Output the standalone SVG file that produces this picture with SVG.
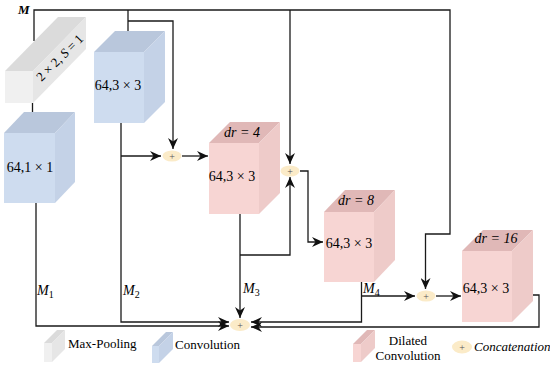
<svg xmlns="http://www.w3.org/2000/svg" width="550" height="367" viewBox="0 0 550 367" font-family="'Liberation Serif','Times New Roman',Times,'DejaVu Serif',serif">
<style>
text{font-family:'Liberation Serif','Times New Roman',Times,'DejaVu Serif',serif}
.lbl{font-size:14px}
.it{font-style:italic}
.leg{font-size:13px}
.conn path{fill:none;stroke:#1a1a1a;stroke-width:1.3}
.bf{fill:#cedcef}.bt{fill:#b9c7dc}.bs{fill:#c4d2e7}
.pf{fill:#f7d5d3}.pt{fill:#e0b8b7}.ps{fill:#eecbc9}
.gf{fill:#f0f0f0}.gt{fill:#dbdbdb}.gs{fill:#e6e6e6}
.cat{fill:#fbebc8}
.plus{font-size:10px;fill:#555}
</style>
<defs>
<marker id="ah" markerUnits="userSpaceOnUse" markerWidth="12" markerHeight="10" refX="11" refY="5" orient="auto">
<path d="M0,0 L11,5 L0,10 L3.5,5 z" fill="#111"/>
</marker>
</defs>

<g class="conn">
<path d="M34,41 V10 H450 V234 H425.5 V289" marker-end="url(#ah)"/>
<path d="M128,10 V31"/>
<path d="M128,21 H173 V149" marker-end="url(#ah)"/>
<path d="M290,10 V164" marker-end="url(#ah)"/>
<path d="M32.5,103 V112"/>
<path d="M36,203 V326 H229" marker-end="url(#ah)"/>
<path d="M121,123 V322 H229" marker-end="url(#ah)"/>
<path d="M121,156 H161" marker-end="url(#ah)"/>
<path d="M182,156 H208" marker-end="url(#ah)"/>
<path d="M240,214 V318" marker-end="url(#ah)"/>
<path d="M240,255 H290 V177" marker-end="url(#ah)"/>
<path d="M300,171 H308 V242 H323" marker-end="url(#ah)"/>
<path d="M361.5,282 V322 H251" marker-end="url(#ah)"/>
<path d="M361.5,296 H415" marker-end="url(#ah)"/>
<path d="M436,296 H461" marker-end="url(#ah)"/>
<path d="M533,295 H539 V327 H251" marker-end="url(#ah)"/>
</g>

<text x="18" y="14" class="it" font-size="13" font-weight="bold">M</text>

<g id="maxpool">
<polygon class="gf" points="5,71 33,71 33,103 5,103"/>
<polygon class="gt" points="5,71 33,71 86,17 58,17"/>
<polygon class="gs" points="33,71 86,17 86,49 33,103"/>
<text x="60" y="62" text-anchor="middle" font-size="13" transform="rotate(-45 60 58)">2 × 2, <tspan class="it">S</tspan> = 1</text>
</g>

<g id="conv1">
<polygon class="bf" points="4,133 55,133 55,203 4,203"/>
<polygon class="bt" points="4,133 55,133 75,112 24,112"/>
<polygon class="bs" points="55,133 75,112 75,182 55,203"/>
<text x="30" y="172" class="lbl" text-anchor="middle">64,1 × 1</text>
</g>

<g id="conv2">
<polygon class="bf" points="94,52 144,52 144,123 94,123"/>
<polygon class="bt" points="94,52 144,52 165,31 115,31"/>
<polygon class="bs" points="144,52 165,31 165,102 144,123"/>
<text x="118" y="90" class="lbl" text-anchor="middle">64,3 × 3</text>
</g>

<g id="dr4">
<polygon class="pf" points="209,143 259,143 259,214 209,214"/>
<polygon class="pt" points="209,143 259,143 280,122 230,122"/>
<polygon class="ps" points="259,143 280,122 280,193 259,214"/>
<text x="242" y="137" class="lbl it" text-anchor="middle">dr = 4</text>
<text x="232" y="181" class="lbl" text-anchor="middle">64,3 × 3</text>
</g>

<g id="dr8">
<polygon class="pf" points="324,212 374,212 374,282 324,282"/>
<polygon class="pt" points="324,212 374,212 395,190 345,190"/>
<polygon class="ps" points="374,212 395,190 395,260 374,282"/>
<text x="356" y="205" class="lbl it" text-anchor="middle">dr = 8</text>
<text x="349" y="248" class="lbl" text-anchor="middle">64,3 × 3</text>
</g>

<g id="dr16">
<polygon class="pf" points="462,251 512,251 512,322 462,322"/>
<polygon class="pt" points="462,251 512,251 533,230 483,230"/>
<polygon class="ps" points="512,251 533,230 533,301 512,322"/>
<text x="496" y="243" class="lbl it" text-anchor="middle">dr = 16</text>
<text x="486" y="293" class="lbl" text-anchor="middle">64,3 × 3</text>
</g>

<g id="cat1"><ellipse class="cat" cx="172" cy="156" rx="9.5" ry="5.5"/><text x="172" y="159.5" class="plus" text-anchor="middle">+</text></g>
<g id="cat2"><ellipse class="cat" cx="290" cy="171" rx="9.5" ry="5.5"/><text x="290" y="174.5" class="plus" text-anchor="middle">+</text></g>
<g id="cat3"><ellipse class="cat" cx="240" cy="325" rx="10" ry="6"/><text x="240" y="328.5" class="plus" text-anchor="middle">+</text></g>
<g id="cat4"><ellipse class="cat" cx="426" cy="296" rx="9.5" ry="5.5"/><text x="426" y="299.5" class="plus" text-anchor="middle">+</text></g>

<g id="labels">
<text x="37" y="295" class="lbl it">M<tspan dy="3" font-size="10" font-style="normal">1</tspan></text>
<text x="123" y="295" class="lbl it">M<tspan dy="3" font-size="10" font-style="normal">2</tspan></text>
<text x="243" y="293" class="lbl it">M<tspan dy="3" font-size="10" font-style="normal">3</tspan></text>
<text x="363" y="293" class="lbl it">M<tspan dy="3" font-size="10" font-style="normal">4</tspan></text>
</g>

<g id="legend">
<polygon class="gf" points="44,343 52,343 52,362 44,362"/>
<polygon class="gt" points="44,343 52,343 65,330 57,330"/>
<polygon class="gs" points="52,343 65,330 65,349 52,362"/>
<text x="68" y="348" class="leg">Max-Pooling</text>
<polygon class="bf" points="152,346 159,346 159,363 152,363"/>
<polygon class="bt" points="152,346 159,346 173,332 166,332"/>
<polygon class="bs" points="159,346 173,332 173,349 159,363"/>
<text x="175" y="349" class="leg">Convolution</text>
<polygon class="pf" points="353,344 361,344 361,362 353,362"/>
<polygon class="pt" points="353,344 361,344 375,330 367,330"/>
<polygon class="ps" points="361,344 375,330 375,348 361,362"/>
<text x="408" y="345" class="leg" text-anchor="middle">Dilated</text>
<text x="408" y="360" class="leg" text-anchor="middle">Convolution</text>
<ellipse class="cat" cx="462" cy="347" rx="10" ry="6.5"/>
<text x="462" y="351" class="plus" text-anchor="middle" fill="#333">+</text>
<text x="474" y="351" class="leg it">Concatenation</text>
</g>
</svg>
